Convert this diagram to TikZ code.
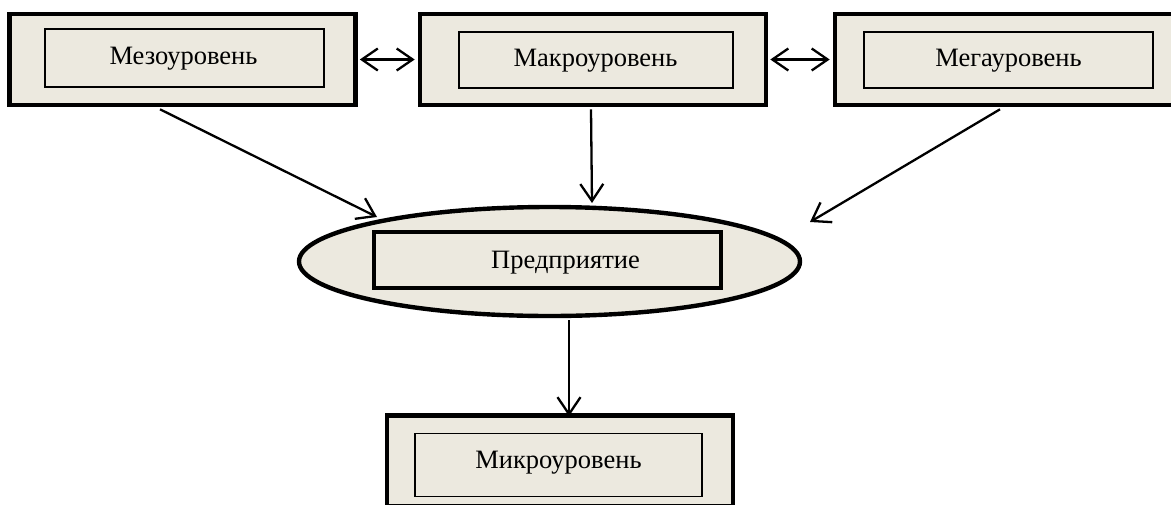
\documentclass[tikz,border=0pt]{standalone}
\usepackage{fontspec}
\setmainfont{Liberation Serif}
\usetikzlibrary{shapes.geometric,arrows.meta}
\definecolor{boxfill}{RGB}{236,233,223}
\tikzset{
  outerbox/.style={draw=black,line width=4.6pt,fill=boxfill,minimum width=346pt,minimum height=91pt,inner sep=0pt},
  innerbox/.style={draw=black,line width=1.4pt,fill=boxfill,inner sep=0pt},
  entbox/.style={draw=black,line width=4.4pt,fill=boxfill,inner sep=0pt},
  lbl/.style={anchor=base,inner sep=0pt,font=\fontsize{26.5}{30}\selectfont},
  ell/.style={ellipse,draw=black,line width=4.4pt,fill=boxfill,minimum width=501pt,minimum height=109pt,inner sep=0pt},
  conn/.style={line width=2.3pt,-{Straight Barb[length=17pt,width=23pt,line width=2.3pt]}},
  dconn/.style={line width=2.3pt,{Straight Barb[length=16pt,width=22pt,line width=2.3pt]}-{Straight Barb[length=16pt,width=22pt,line width=2.3pt]}}
}
\begin{document}
\begin{tikzpicture}[x=1pt,y=-1pt]
\useasboundingbox (0,0) rectangle (1171,504);
\clip (0,0) rectangle (1171,504);
% outer boxes
\node[outerbox] (mesoO) at (182.5,59.5) {};
\node[outerbox] (macroO) at (593,59.5) {};
\node[outerbox] (megaO) at (1008,59.5) {};
\node[outerbox] (microO) at (560,461) {};
% inner boxes
\node[innerbox,minimum width=279pt,minimum height=58pt] (meso) at (184.5,58) {};
\node[innerbox,minimum width=274pt,minimum height=56pt] (macro) at (596,60) {};
\node[innerbox,minimum width=289pt,minimum height=56pt] (mega) at (1008.5,60) {};
\node[innerbox,minimum width=287pt,minimum height=63pt] (micro) at (558.5,465) {};
% enterprise
\node[ell] (entE) at (549.5,261.5) {};
\node[entbox,minimum width=347pt,minimum height=56pt] (ent) at (547.5,260) {};
% labels
\node[lbl] (mesoT) at (183.5,64) {Мезоуровень};
\node[lbl] (macroT) at (595.5,66) {Макроуровень};
\node[lbl] (megaT) at (1008.5,66) {Мегауровень};
\node[lbl] (entT) at (565.5,268) {Предприятие};
\node[lbl] (microT) at (558.5,468) {Микроуровень};
% connectors
\draw[dconn] ([xshift=2pt]mesoO.east) -- ([xshift=-3pt]macroO.west);
\draw[dconn] ([xshift=2pt]macroO.east) -- ([xshift=-3pt]megaO.west);
\draw[conn] ([xshift=-22.5pt,yshift=-2pt]mesoO.south) -- ([shift={(-172.5,-44.5)}]entE.center);
\draw[conn] ([xshift=-2pt,yshift=-2pt]macroO.south) -- ([shift={(42.5,-58.5)}]entE.center);
\draw[conn] ([xshift=-8pt,yshift=-2pt]megaO.south) -- ([shift={(260.5,-39.5)}]entE.center);
\draw[conn] ([xshift=19.5pt,yshift=-2pt]entE.south) -- ([xshift=9pt,yshift=-3pt]microO.north);
\end{tikzpicture}
\end{document}
